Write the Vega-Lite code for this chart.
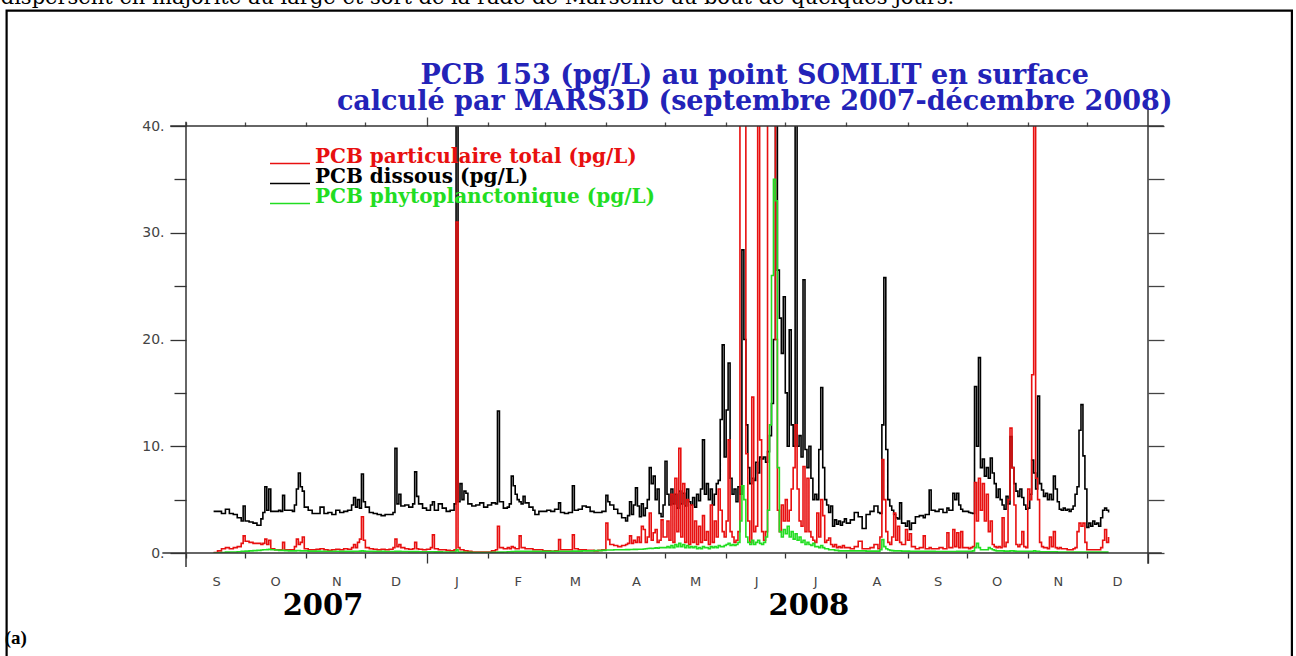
{
"$schema":"https://vega.github.io/schema/vega-lite/v6.json",
"width":962,"height":427,
"autosize":{"type":"none"},
"padding":{"left":186,"top":126,"right":148,"bottom":103},
"background":"white",
"config":{"view":{"stroke":null},"axis":{"grid":false,"domain":false,"title":null}},
"data":{"values":[
{"d":"2007-09-15","p":0.05,"s":3.9,"g":0},
{"d":"2007-09-17","p":0.2,"s":3.9,"g":0.02},
{"d":"2007-09-19","p":0.4,"s":3.7,"g":0.05},
{"d":"2007-09-21","p":0.5,"s":4.1,"g":0.08},
{"d":"2007-09-23","p":0.4,"s":3.7,"g":0.1},
{"d":"2007-09-25","p":0.5,"s":3.6,"g":0.1},
{"d":"2007-09-27","p":0.6,"s":3.3,"g":0.12},
{"d":"2007-09-29","p":0.9,"s":3.0,"g":0.15},
{"d":"2007-09-30","p":1.6,"s":4.4,"g":0.15},
{"d":"2007-10-01","p":1.1,"s":3.0,"g":0.18},
{"d":"2007-10-03","p":1.0,"s":2.9,"g":0.2},
{"d":"2007-10-05","p":0.9,"s":2.8,"g":0.22},
{"d":"2007-10-07","p":0.9,"s":2.6,"g":0.25},
{"d":"2007-10-09","p":0.8,"s":3.2,"g":0.28},
{"d":"2007-10-10","p":0.9,"s":3.8,"g":0.3},
{"d":"2007-10-11","p":1.3,"s":6.2,"g":0.3},
{"d":"2007-10-12","p":0.8,"s":4.0,"g":0.32},
{"d":"2007-10-13","p":1.2,"s":6.0,"g":0.35},
{"d":"2007-10-14","p":0.4,"s":3.9,"g":0.3},
{"d":"2007-10-16","p":0.3,"s":3.9,"g":0.28},
{"d":"2007-10-18","p":0.3,"s":4.0,"g":0.25},
{"d":"2007-10-19","p":0.3,"s":3.9,"g":0.25},
{"d":"2007-10-20","p":1.0,"s":5.4,"g":0.25},
{"d":"2007-10-21","p":0.3,"s":4.0,"g":0.22},
{"d":"2007-10-23","p":0.3,"s":4.0,"g":0.2},
{"d":"2007-10-25","p":0.3,"s":3.9,"g":0.2},
{"d":"2007-10-26","p":0.6,"s":4.5,"g":0.2},
{"d":"2007-10-27","p":1.3,"s":6.0,"g":0.22},
{"d":"2007-10-28","p":0.8,"s":7.5,"g":0.22},
{"d":"2007-10-29","p":1.0,"s":6.2,"g":0.2},
{"d":"2007-10-30","p":1.5,"s":5.8,"g":0.2},
{"d":"2007-10-31","p":0.4,"s":4.3,"g":0.2},
{"d":"2007-11-02","p":0.3,"s":4.0,"g":0.18},
{"d":"2007-11-04","p":0.3,"s":3.7,"g":0.18},
{"d":"2007-11-06","p":0.35,"s":3.7,"g":0.18},
{"d":"2007-11-08","p":0.4,"s":4.3,"g":0.17},
{"d":"2007-11-10","p":0.3,"s":3.7,"g":0.17},
{"d":"2007-11-12","p":0.25,"s":3.8,"g":0.16},
{"d":"2007-11-14","p":0.3,"s":3.6,"g":0.16},
{"d":"2007-11-16","p":0.35,"s":4.0,"g":0.16},
{"d":"2007-11-18","p":0.3,"s":3.8,"g":0.15},
{"d":"2007-11-20","p":0.4,"s":3.9,"g":0.15},
{"d":"2007-11-22","p":0.35,"s":4.0,"g":0.15},
{"d":"2007-11-24","p":0.5,"s":4.5,"g":0.15},
{"d":"2007-11-25","p":0.8,"s":5.2,"g":0.16},
{"d":"2007-11-26","p":0.5,"s":4.3,"g":0.16},
{"d":"2007-11-27","p":1.0,"s":5.0,"g":0.17},
{"d":"2007-11-28","p":1.3,"s":4.2,"g":0.18},
{"d":"2007-11-29","p":3.4,"s":7.4,"g":0.2},
{"d":"2007-11-30","p":1.2,"s":4.8,"g":0.18},
{"d":"2007-12-01","p":0.5,"s":4.3,"g":0.17},
{"d":"2007-12-03","p":0.4,"s":3.8,"g":0.16},
{"d":"2007-12-05","p":0.35,"s":3.7,"g":0.15},
{"d":"2007-12-07","p":0.3,"s":3.6,"g":0.15},
{"d":"2007-12-09","p":0.35,"s":3.5,"g":0.15},
{"d":"2007-12-11","p":0.3,"s":3.6,"g":0.14},
{"d":"2007-12-13","p":0.35,"s":3.6,"g":0.14},
{"d":"2007-12-15","p":0.5,"s":3.8,"g":0.14},
{"d":"2007-12-16","p":1.3,"s":9.8,"g":0.15},
{"d":"2007-12-17","p":0.6,"s":4.6,"g":0.15},
{"d":"2007-12-18","p":0.8,"s":5.5,"g":0.15},
{"d":"2007-12-19","p":0.5,"s":4.4,"g":0.14},
{"d":"2007-12-21","p":0.4,"s":4.5,"g":0.14},
{"d":"2007-12-23","p":0.35,"s":4.3,"g":0.13},
{"d":"2007-12-25","p":0.4,"s":4.6,"g":0.13},
{"d":"2007-12-26","p":1.0,"s":7.6,"g":0.13},
{"d":"2007-12-27","p":0.4,"s":5.3,"g":0.13},
{"d":"2007-12-28","p":0.35,"s":4.6,"g":0.12},
{"d":"2007-12-30","p":0.3,"s":4.2,"g":0.12},
{"d":"2008-01-01","p":0.35,"s":4.0,"g":0.12},
{"d":"2008-01-03","p":0.5,"s":4.5,"g":0.12},
{"d":"2008-01-04","p":1.7,"s":4.8,"g":0.12},
{"d":"2008-01-05","p":0.4,"s":4.0,"g":0.11},
{"d":"2008-01-07","p":0.3,"s":4.6,"g":0.11},
{"d":"2008-01-09","p":0.3,"s":4.2,"g":0.1},
{"d":"2008-01-11","p":0.25,"s":3.9,"g":0.1},
{"d":"2008-01-13","p":0.2,"s":4.0,"g":0.1},
{"d":"2008-01-15","p":0.3,"s":4.6,"g":0.1},
{"d":"2008-01-16","p":31,"s":45,"g":0.3},
{"d":"2008-01-17","p":0.5,"s":4.8,"g":0.1},
{"d":"2008-01-18","p":0.3,"s":6.5,"g":0.08},
{"d":"2008-01-19","p":0.3,"s":5.0,"g":0.08},
{"d":"2008-01-20","p":0.2,"s":5.8,"g":0.07},
{"d":"2008-01-21","p":0.2,"s":5.6,"g":0.07},
{"d":"2008-01-22","p":0.15,"s":4.6,"g":0.06},
{"d":"2008-01-24","p":0.1,"s":4.4,"g":0.05},
{"d":"2008-01-26","p":0.1,"s":4.5,"g":0.05},
{"d":"2008-01-28","p":0.1,"s":4.7,"g":0.05},
{"d":"2008-01-30","p":0.1,"s":4.3,"g":0.05},
{"d":"2008-02-01","p":0.1,"s":4.5,"g":0.05},
{"d":"2008-02-03","p":0.2,"s":4.7,"g":0.06},
{"d":"2008-02-05","p":0.3,"s":4.6,"g":0.07},
{"d":"2008-02-06","p":2.5,"s":13.3,"g":0.08},
{"d":"2008-02-07","p":0.5,"s":4.8,"g":0.08},
{"d":"2008-02-09","p":0.4,"s":4.2,"g":0.1},
{"d":"2008-02-11","p":0.5,"s":4.3,"g":0.12},
{"d":"2008-02-12","p":0.4,"s":4.6,"g":0.12},
{"d":"2008-02-13","p":0.6,"s":7.2,"g":0.13},
{"d":"2008-02-14","p":0.5,"s":6.3,"g":0.14},
{"d":"2008-02-15","p":0.4,"s":5.5,"g":0.15},
{"d":"2008-02-16","p":0.4,"s":5.0,"g":0.15},
{"d":"2008-02-17","p":1.6,"s":4.8,"g":0.15},
{"d":"2008-02-18","p":0.5,"s":4.6,"g":0.15},
{"d":"2008-02-19","p":0.5,"s":5.3,"g":0.15},
{"d":"2008-02-20","p":0.4,"s":4.7,"g":0.15},
{"d":"2008-02-22","p":0.4,"s":4.3,"g":0.15},
{"d":"2008-02-24","p":0.3,"s":4.0,"g":0.15},
{"d":"2008-02-25","p":0.3,"s":3.6,"g":0.15},
{"d":"2008-02-27","p":0.3,"s":3.9,"g":0.15},
{"d":"2008-02-29","p":0.2,"s":3.9,"g":0.15},
{"d":"2008-03-02","p":0.2,"s":4.0,"g":0.15},
{"d":"2008-03-04","p":0.15,"s":3.9,"g":0.15},
{"d":"2008-03-06","p":0.2,"s":4.1,"g":0.15},
{"d":"2008-03-08","p":1.25,"s":4.7,"g":0.16},
{"d":"2008-03-09","p":0.3,"s":3.8,"g":0.16},
{"d":"2008-03-11","p":0.3,"s":3.7,"g":0.16},
{"d":"2008-03-13","p":0.3,"s":3.8,"g":0.17},
{"d":"2008-03-15","p":1.7,"s":6.3,"g":0.18},
{"d":"2008-03-16","p":0.4,"s":4.0,"g":0.18},
{"d":"2008-03-18","p":0.3,"s":4.1,"g":0.18},
{"d":"2008-03-20","p":0.3,"s":4.4,"g":0.2},
{"d":"2008-03-22","p":0.25,"s":4.3,"g":0.2},
{"d":"2008-03-24","p":0.25,"s":3.9,"g":0.2},
{"d":"2008-03-26","p":0.2,"s":3.8,"g":0.22},
{"d":"2008-03-28","p":0.25,"s":3.8,"g":0.22},
{"d":"2008-03-30","p":0.3,"s":3.9,"g":0.25},
{"d":"2008-04-01","p":2.8,"s":5.4,"g":0.28},
{"d":"2008-04-02","p":1.25,"s":4.8,"g":0.28},
{"d":"2008-04-03","p":0.8,"s":4.5,"g":0.28},
{"d":"2008-04-05","p":0.7,"s":4.1,"g":0.3},
{"d":"2008-04-07","p":0.6,"s":3.7,"g":0.3},
{"d":"2008-04-09","p":0.7,"s":3.3,"g":0.3},
{"d":"2008-04-11","p":0.8,"s":3.0,"g":0.32},
{"d":"2008-04-12","p":0.9,"s":3.5,"g":0.32},
{"d":"2008-04-13","p":1.6,"s":4.8,"g":0.33},
{"d":"2008-04-14","p":0.9,"s":3.6,"g":0.33},
{"d":"2008-04-15","p":1.2,"s":4.5,"g":0.34},
{"d":"2008-04-16","p":1.0,"s":6.1,"g":0.34},
{"d":"2008-04-17","p":1.5,"s":4.4,"g":0.35},
{"d":"2008-04-18","p":1.0,"s":3.4,"g":0.35},
{"d":"2008-04-19","p":2.5,"s":4.6,"g":0.35},
{"d":"2008-04-20","p":2.2,"s":3.5,"g":0.38},
{"d":"2008-04-21","p":1.0,"s":4.2,"g":0.4},
{"d":"2008-04-22","p":1.5,"s":5.0,"g":0.42},
{"d":"2008-04-23","p":3.75,"s":8.0,"g":0.45},
{"d":"2008-04-24","p":1.2,"s":6.5,"g":0.42},
{"d":"2008-04-25","p":1.9,"s":7.2,"g":0.45},
{"d":"2008-04-26","p":2.2,"s":5.0,"g":0.48},
{"d":"2008-04-27","p":1.0,"s":6.0,"g":0.45},
{"d":"2008-04-28","p":1.2,"s":3.7,"g":0.5},
{"d":"2008-04-29","p":3.1,"s":3.4,"g":0.5},
{"d":"2008-04-30","p":1.5,"s":4.5,"g":0.5},
{"d":"2008-05-01","p":1.5,"s":8.6,"g":0.5},
{"d":"2008-05-02","p":3.0,"s":5.5,"g":0.6},
{"d":"2008-05-03","p":1.2,"s":4.5,"g":0.5},
{"d":"2008-05-04","p":5.5,"s":6.0,"g":0.7},
{"d":"2008-05-05","p":1.0,"s":4.6,"g":0.5},
{"d":"2008-05-06","p":7.0,"s":5.5,"g":0.8},
{"d":"2008-05-07","p":2.0,"s":4.2,"g":0.6},
{"d":"2008-05-08","p":9.8,"s":5.8,"g":0.9},
{"d":"2008-05-09","p":1.5,"s":4.6,"g":0.6},
{"d":"2008-05-10","p":6.5,"s":5.6,"g":0.8},
{"d":"2008-05-11","p":1.0,"s":4.4,"g":0.5},
{"d":"2008-05-12","p":5.0,"s":6.0,"g":0.7},
{"d":"2008-05-13","p":0.8,"s":4.8,"g":0.5},
{"d":"2008-05-14","p":4.5,"s":4.5,"g":0.6},
{"d":"2008-05-15","p":1.0,"s":5.2,"g":0.5},
{"d":"2008-05-16","p":3.0,"s":4.3,"g":0.6},
{"d":"2008-05-17","p":0.8,"s":5.5,"g":0.4},
{"d":"2008-05-18","p":2.5,"s":4.9,"g":0.5},
{"d":"2008-05-19","p":1.0,"s":6.0,"g":0.4},
{"d":"2008-05-20","p":3.5,"s":10.6,"g":0.6},
{"d":"2008-05-21","p":1.2,"s":5.5,"g":0.5},
{"d":"2008-05-22","p":2.0,"s":6.5,"g":0.5},
{"d":"2008-05-23","p":0.8,"s":5.0,"g":0.4},
{"d":"2008-05-24","p":4.5,"s":6.0,"g":0.6},
{"d":"2008-05-25","p":1.0,"s":4.5,"g":0.5},
{"d":"2008-05-26","p":3.0,"s":5.5,"g":0.6},
{"d":"2008-05-27","p":1.5,"s":6.5,"g":0.5},
{"d":"2008-05-28","p":6.0,"s":6.8,"g":0.7},
{"d":"2008-05-29","p":4.0,"s":12.5,"g":0.6},
{"d":"2008-05-30","p":2.0,"s":19.5,"g":0.6},
{"d":"2008-05-31","p":1.5,"s":9.0,"g":0.7},
{"d":"2008-06-01","p":3.0,"s":13.4,"g":0.8},
{"d":"2008-06-02","p":10.6,"s":17.8,"g":0.9},
{"d":"2008-06-03","p":2.0,"s":7.0,"g":0.7},
{"d":"2008-06-04","p":1.5,"s":5.5,"g":0.8},
{"d":"2008-06-05","p":1.0,"s":6.0,"g":0.7},
{"d":"2008-06-06","p":1.2,"s":4.8,"g":0.8},
{"d":"2008-06-07","p":2.0,"s":6.2,"g":1.0},
{"d":"2008-06-08","p":45,"s":5.5,"g":3.0},
{"d":"2008-06-09","p":45,"s":28.4,"g":6.3},
{"d":"2008-06-10","p":45,"s":20,"g":5.0},
{"d":"2008-06-11","p":9.3,"s":12,"g":1.5},
{"d":"2008-06-12","p":3.0,"s":8.0,"g":1.0},
{"d":"2008-06-13","p":1.0,"s":6.5,"g":0.8},
{"d":"2008-06-14","p":14.6,"s":7.0,"g":1.2},
{"d":"2008-06-15","p":2.0,"s":6.8,"g":0.8},
{"d":"2008-06-16","p":2.5,"s":8.5,"g":1.0},
{"d":"2008-06-17","p":45,"s":7.5,"g":1.2},
{"d":"2008-06-18","p":10.6,"s":9.0,"g":0.9},
{"d":"2008-06-19","p":2.0,"s":8.8,"g":0.8},
{"d":"2008-06-20","p":1.2,"s":9.0,"g":1.0},
{"d":"2008-06-21","p":2.0,"s":8.5,"g":1.5},
{"d":"2008-06-22","p":45,"s":9.5,"g":4.0},
{"d":"2008-06-23","p":45,"s":11,"g":12},
{"d":"2008-06-24","p":45,"s":14,"g":26},
{"d":"2008-06-25","p":45,"s":20,"g":35},
{"d":"2008-06-26","p":20,"s":45,"g":33},
{"d":"2008-06-27","p":4.0,"s":26.5,"g":8.0},
{"d":"2008-06-28","p":2.0,"s":22,"g":2.0},
{"d":"2008-06-29","p":4.5,"s":18.7,"g":1.5},
{"d":"2008-06-30","p":3.0,"s":24,"g":2.2},
{"d":"2008-07-01","p":5.0,"s":15,"g":1.8},
{"d":"2008-07-02","p":3.0,"s":10,"g":2.5},
{"d":"2008-07-03","p":4.0,"s":20.9,"g":1.5},
{"d":"2008-07-04","p":6.0,"s":12,"g":2.0},
{"d":"2008-07-05","p":8.0,"s":10,"g":1.3},
{"d":"2008-07-06","p":12,"s":45,"g":1.8},
{"d":"2008-07-07","p":6.0,"s":10,"g":1.2},
{"d":"2008-07-08","p":3.0,"s":11,"g":1.5},
{"d":"2008-07-09","p":2.5,"s":9,"g":1.0},
{"d":"2008-07-10","p":8.1,"s":25.6,"g":1.2},
{"d":"2008-07-11","p":2.0,"s":9.7,"g":0.8},
{"d":"2008-07-12","p":7.0,"s":8.0,"g":1.0},
{"d":"2008-07-13","p":2.0,"s":10,"g":0.8},
{"d":"2008-07-14","p":1.5,"s":7.0,"g":0.7},
{"d":"2008-07-15","p":1.2,"s":5.0,"g":0.9},
{"d":"2008-07-16","p":1.0,"s":5.5,"g":0.6},
{"d":"2008-07-17","p":3.75,"s":5.0,"g":0.6},
{"d":"2008-07-18","p":1.5,"s":9.7,"g":0.5},
{"d":"2008-07-19","p":5.0,"s":15.5,"g":0.7},
{"d":"2008-07-20","p":3.5,"s":8.0,"g":0.5},
{"d":"2008-07-21","p":1.0,"s":5.0,"g":0.4},
{"d":"2008-07-22","p":1.2,"s":4.5,"g":0.4},
{"d":"2008-07-23","p":1.4,"s":3.8,"g":0.3},
{"d":"2008-07-24","p":0.8,"s":4.4,"g":0.3},
{"d":"2008-07-25","p":0.6,"s":2.5,"g":0.3},
{"d":"2008-07-26","p":0.8,"s":3.1,"g":0.25},
{"d":"2008-07-27","p":0.5,"s":2.7,"g":0.25},
{"d":"2008-07-28","p":0.6,"s":3.0,"g":0.2},
{"d":"2008-07-29","p":0.5,"s":2.6,"g":0.2},
{"d":"2008-07-30","p":0.7,"s":2.9,"g":0.2},
{"d":"2008-07-31","p":0.5,"s":3.2,"g":0.2},
{"d":"2008-08-01","p":0.5,"s":2.8,"g":0.2},
{"d":"2008-08-03","p":0.4,"s":3.1,"g":0.2},
{"d":"2008-08-05","p":0.6,"s":3.8,"g":0.2},
{"d":"2008-08-07","p":1.1,"s":3.4,"g":0.2},
{"d":"2008-08-09","p":0.4,"s":2.3,"g":0.2},
{"d":"2008-08-11","p":0.4,"s":3.6,"g":0.18},
{"d":"2008-08-13","p":0.5,"s":3.9,"g":0.18},
{"d":"2008-08-15","p":0.8,"s":4.4,"g":0.18},
{"d":"2008-08-17","p":0.4,"s":3.8,"g":0.18},
{"d":"2008-08-18","p":1.5,"s":3.7,"g":0.3},
{"d":"2008-08-19","p":8.75,"s":12,"g":1.25},
{"d":"2008-08-20","p":5.0,"s":25.8,"g":0.6},
{"d":"2008-08-21","p":2.0,"s":9.7,"g":0.4},
{"d":"2008-08-22","p":1.0,"s":5.0,"g":0.3},
{"d":"2008-08-23","p":0.8,"s":4.4,"g":0.25},
{"d":"2008-08-24","p":1.5,"s":4.0,"g":0.22},
{"d":"2008-08-25","p":3.75,"s":3.6,"g":0.2},
{"d":"2008-08-26","p":1.2,"s":3.3,"g":0.2},
{"d":"2008-08-27","p":2.5,"s":3.2,"g":0.2},
{"d":"2008-08-28","p":1.0,"s":4.7,"g":0.2},
{"d":"2008-08-29","p":0.8,"s":2.8,"g":0.18},
{"d":"2008-08-31","p":2.2,"s":2.5,"g":0.18},
{"d":"2008-09-01","p":1.2,"s":3.0,"g":0.18},
{"d":"2008-09-02","p":1.8,"s":2.2,"g":0.15},
{"d":"2008-09-03","p":0.6,"s":2.8,"g":0.15},
{"d":"2008-09-05","p":0.4,"s":3.4,"g":0.15},
{"d":"2008-09-07","p":0.5,"s":3.5,"g":0.15},
{"d":"2008-09-09","p":1.6,"s":3.3,"g":0.15},
{"d":"2008-09-10","p":0.4,"s":3.6,"g":0.15},
{"d":"2008-09-12","p":0.5,"s":5.9,"g":0.15},
{"d":"2008-09-13","p":0.4,"s":4.0,"g":0.15},
{"d":"2008-09-15","p":0.4,"s":3.9,"g":0.14},
{"d":"2008-09-17","p":0.5,"s":4.1,"g":0.14},
{"d":"2008-09-19","p":0.4,"s":3.8,"g":0.14},
{"d":"2008-09-21","p":1.9,"s":4.2,"g":0.14},
{"d":"2008-09-22","p":0.5,"s":4.0,"g":0.14},
{"d":"2008-09-24","p":2.2,"s":5.6,"g":0.14},
{"d":"2008-09-25","p":0.6,"s":5.0,"g":0.14},
{"d":"2008-09-26","p":1.9,"s":5.6,"g":0.15},
{"d":"2008-09-27","p":0.5,"s":4.5,"g":0.15},
{"d":"2008-09-28","p":2.0,"s":4.1,"g":0.15},
{"d":"2008-09-29","p":0.5,"s":3.9,"g":0.15},
{"d":"2008-10-01","p":0.5,"s":3.9,"g":0.15},
{"d":"2008-10-02","p":0.4,"s":3.8,"g":0.15},
{"d":"2008-10-03","p":0.5,"s":3.75,"g":0.15},
{"d":"2008-10-04","p":0.6,"s":3.7,"g":0.2},
{"d":"2008-10-05","p":6.6,"s":15.6,"g":0.5},
{"d":"2008-10-06","p":3.0,"s":10,"g":0.9},
{"d":"2008-10-07","p":7.0,"s":18.3,"g":0.5},
{"d":"2008-10-08","p":4.0,"s":8.0,"g":0.3},
{"d":"2008-10-09","p":6.5,"s":8.8,"g":0.3},
{"d":"2008-10-10","p":3.0,"s":7.2,"g":0.3},
{"d":"2008-10-11","p":5.5,"s":8.0,"g":0.3},
{"d":"2008-10-12","p":2.0,"s":7.0,"g":0.5},
{"d":"2008-10-13","p":3.0,"s":8.9,"g":0.4},
{"d":"2008-10-14","p":0.8,"s":7.5,"g":0.3},
{"d":"2008-10-15","p":0.6,"s":6.5,"g":0.25},
{"d":"2008-10-16","p":0.5,"s":5.2,"g":0.2},
{"d":"2008-10-17","p":0.6,"s":6.0,"g":0.2},
{"d":"2008-10-18","p":0.5,"s":5.0,"g":0.2},
{"d":"2008-10-19","p":3.3,"s":4.5,"g":0.2},
{"d":"2008-10-20","p":0.6,"s":4.1,"g":0.18},
{"d":"2008-10-21","p":1.0,"s":5.3,"g":0.18},
{"d":"2008-10-22","p":5.0,"s":4.6,"g":0.18},
{"d":"2008-10-23","p":11.7,"s":10.9,"g":0.2},
{"d":"2008-10-24","p":8.0,"s":8.0,"g":0.2},
{"d":"2008-10-25","p":4.5,"s":6.5,"g":0.18},
{"d":"2008-10-26","p":0.8,"s":5.8,"g":0.15},
{"d":"2008-10-27","p":0.6,"s":5.3,"g":0.15},
{"d":"2008-10-28","p":0.8,"s":6.0,"g":0.15},
{"d":"2008-10-29","p":2.0,"s":5.2,"g":0.15},
{"d":"2008-10-30","p":0.6,"s":4.5,"g":0.15},
{"d":"2008-10-31","p":0.5,"s":4.1,"g":0.15},
{"d":"2008-11-01","p":6.0,"s":4.2,"g":0.15},
{"d":"2008-11-02","p":5.0,"s":5.5,"g":0.15},
{"d":"2008-11-03","p":16.7,"s":8.7,"g":0.15},
{"d":"2008-11-04","p":45,"s":7.5,"g":0.2},
{"d":"2008-11-05","p":7.0,"s":6.0,"g":0.15},
{"d":"2008-11-06","p":5.0,"s":14.7,"g":0.15},
{"d":"2008-11-07","p":1.0,"s":6.5,"g":0.12},
{"d":"2008-11-08","p":0.6,"s":5.9,"g":0.12},
{"d":"2008-11-09","p":0.5,"s":5.3,"g":0.12},
{"d":"2008-11-10","p":0.5,"s":5.6,"g":0.12},
{"d":"2008-11-11","p":0.4,"s":5.0,"g":0.12},
{"d":"2008-11-12","p":1.5,"s":5.5,"g":0.12},
{"d":"2008-11-13","p":0.6,"s":5.0,"g":0.12},
{"d":"2008-11-14","p":2.0,"s":7.2,"g":0.12},
{"d":"2008-11-15","p":0.5,"s":6.0,"g":0.12},
{"d":"2008-11-16","p":0.4,"s":4.8,"g":0.1},
{"d":"2008-11-17","p":0.5,"s":4.1,"g":0.1},
{"d":"2008-11-18","p":0.4,"s":4.0,"g":0.1},
{"d":"2008-11-19","p":0.4,"s":4.2,"g":0.1},
{"d":"2008-11-20","p":0.4,"s":4.0,"g":0.1},
{"d":"2008-11-21","p":0.3,"s":4.1,"g":0.1},
{"d":"2008-11-22","p":0.3,"s":3.9,"g":0.1},
{"d":"2008-11-23","p":0.3,"s":4.1,"g":0.1},
{"d":"2008-11-24","p":0.4,"s":4.4,"g":0.1},
{"d":"2008-11-25","p":0.5,"s":5.5,"g":0.1},
{"d":"2008-11-26","p":2.0,"s":6.2,"g":0.1},
{"d":"2008-11-27","p":2.8,"s":11.5,"g":0.1},
{"d":"2008-11-28","p":2.5,"s":13.9,"g":0.1},
{"d":"2008-11-29","p":2.8,"s":9.1,"g":0.1},
{"d":"2008-11-30","p":1.0,"s":6.0,"g":0.1},
{"d":"2008-12-01","p":0.3,"s":2.4,"g":0.08},
{"d":"2008-12-02","p":0.3,"s":2.8,"g":0.08},
{"d":"2008-12-03","p":0.3,"s":2.5,"g":0.08},
{"d":"2008-12-04","p":0.3,"s":3.0,"g":0.08},
{"d":"2008-12-05","p":0.3,"s":2.7,"g":0.08},
{"d":"2008-12-06","p":0.3,"s":2.8,"g":0.08},
{"d":"2008-12-07","p":0.3,"s":2.5,"g":0.08},
{"d":"2008-12-08","p":0.5,"s":3.3,"g":0.08},
{"d":"2008-12-09","p":1.2,"s":4.0,"g":0.08},
{"d":"2008-12-10","p":2.2,"s":4.2,"g":0.08},
{"d":"2008-12-11","p":1.0,"s":4.0,"g":0.08},
{"d":"2008-12-12","p":1.5,"s":3.8,"g":0.08}
]},
"resolve":{"axis":{"x":"independent","y":"independent"}},
"layer":[
{"mark":{"type":"line","interpolate":"step-after","strokeWidth":1.6,"clip":true},
 "encoding":{
  "x":{"field":"d","type":"temporal","scale":{"type":"utc","domain":[{"year":2007,"month":9,"date":1,"utc":true},{"year":2009,"month":1,"date":1,"utc":true}]},
   "axis":{"orient":"bottom","values":[{"year":2007,"month":9,"date":1,"utc":true},{"year":2007,"month":10,"date":1,"utc":true},{"year":2007,"month":11,"date":1,"utc":true},{"year":2007,"month":12,"date":1,"utc":true},{"year":2008,"month":1,"date":1,"utc":true},{"year":2008,"month":2,"date":1,"utc":true},{"year":2008,"month":3,"date":1,"utc":true},{"year":2008,"month":4,"date":1,"utc":true},{"year":2008,"month":5,"date":1,"utc":true},{"year":2008,"month":6,"date":1,"utc":true},{"year":2008,"month":7,"date":1,"utc":true},{"year":2008,"month":8,"date":1,"utc":true},{"year":2008,"month":9,"date":1,"utc":true},{"year":2008,"month":10,"date":1,"utc":true},{"year":2008,"month":11,"date":1,"utc":true},{"year":2008,"month":12,"date":1,"utc":true},{"year":2009,"month":1,"date":1,"utc":true}],
    "labelExpr":"utcyear(datum.value) > 2008 ? '' : substring(utcFormat(datum.value, '%b'), 0, 1)",
    "labelOffset":30,"labelPadding":{"condition":{"test":"utcmonth(datum.value) === 0","value":12},"value":17},"labelFont":"DejaVu Sans","labelFontSize":13,"labelColor":"#444","labelAlign":"center","labelOverlap":false,"labelFlush":false,"labelBound":false,
    "tickColor":"#333","tickWidth":1.3,"tickSize":{"condition":{"test":"utcmonth(datum.value) === 0","value":10},"value":5}}},
  "y":{"field":"s","type":"quantitative","scale":{"domain":[0,40],"nice":false,"zero":false},
   "axis":{"orient":"left","values":[0,5,10,15,20,25,30,35,40],"labelExpr":"datum.value % 10 === 0 ? datum.value + '.' : ''","labelFont":"DejaVu Sans","labelFontSize":14,"labelColor":"#444","labelPadding":6,"tickColor":"#333","tickWidth":1.3,"tickSize":{"condition":{"test":"datum.value % 10 === 0","value":16},"value":12}}},
  "color":{"datum":"PCB dissous (pg/L)","type":"nominal",
   "scale":{"domain":["PCB particulaire total (pg/L)","PCB dissous (pg/L)","PCB phytoplanctonique (pg/L)"],"range":["#e81010","#000000","#22dd22"]},
   "legend":{"orient":"none","legendX":94,"legendY":21,"title":null,"padding":0,"symbolType":"M-4,1.3L4,1.3","symbolSize":100,"symbolStrokeWidth":1.5,"labelFont":"DejaVu Serif","labelFontWeight":"bold","labelFontSize":20,"labelOffset":15,"rowPadding":-4.5,"labelLimit":0,
    "encode":{"labels":{"update":{"fill":{"scale":"color","field":"value"}}}}}}
 }},
{"mark":{"type":"line","interpolate":"step-after","strokeWidth":1.6,"clip":true},
 "encoding":{
  "x":{"field":"d","type":"temporal","scale":{"type":"utc"},
   "axis":{"orient":"top","values":[{"year":2007,"month":9,"date":1,"utc":true},{"year":2007,"month":10,"date":1,"utc":true},{"year":2007,"month":11,"date":1,"utc":true},{"year":2007,"month":12,"date":1,"utc":true},{"year":2008,"month":1,"date":1,"utc":true},{"year":2008,"month":2,"date":1,"utc":true},{"year":2008,"month":3,"date":1,"utc":true},{"year":2008,"month":4,"date":1,"utc":true},{"year":2008,"month":5,"date":1,"utc":true},{"year":2008,"month":6,"date":1,"utc":true},{"year":2008,"month":7,"date":1,"utc":true},{"year":2008,"month":8,"date":1,"utc":true},{"year":2008,"month":9,"date":1,"utc":true},{"year":2008,"month":10,"date":1,"utc":true},{"year":2008,"month":11,"date":1,"utc":true},{"year":2008,"month":12,"date":1,"utc":true}],
    "labels":false,"tickColor":"#444","tickWidth":1.3,"tickSize":{"condition":{"test":"utcmonth(datum.value) === 0","value":9},"value":4}}},
  "y":{"field":"p","type":"quantitative","axis":{"orient":"right","values":[0,5,10,15,20,25,30,35,40],"labels":false,"tickColor":"#444","tickWidth":1.3,"tickSize":16}},
  "color":{"datum":"PCB particulaire total (pg/L)","type":"nominal"}
 }},
{"mark":{"type":"line","interpolate":"step-after","strokeWidth":1.6,"clip":true},
 "encoding":{
  "x":{"field":"d","type":"temporal","scale":{"type":"utc"},"axis":null},
  "y":{"field":"g","type":"quantitative","axis":null},
  "color":{"datum":"PCB phytoplanctonique (pg/L)","type":"nominal"}
 }},
{"data":{"values":[{}]},"mark":{"type":"rule","color":"#333","strokeWidth":1.5,"clip":false},
 "encoding":{"x":{"datum":{"year":2007,"month":8,"date":20,"utc":true},"type":"temporal","scale":{"type":"utc"},"axis":null},"x2":{"datum":{"year":2009,"month":1,"date":8,"utc":true}},"y":{"datum":0,"type":"quantitative","axis":null}}},
{"data":{"values":[{}]},"mark":{"type":"rule","color":"#333","strokeWidth":1.5,"clip":false},
 "encoding":{"x":{"datum":{"year":2007,"month":8,"date":24,"utc":true},"type":"temporal","scale":{"type":"utc"},"axis":null},"x2":{"datum":{"year":2009,"month":1,"date":9,"utc":true}},"y":{"datum":40,"type":"quantitative","axis":null}}},
{"data":{"values":[{}]},"mark":{"type":"rule","color":"#333","strokeWidth":1.5,"clip":false},
 "encoding":{"x":{"datum":{"year":2007,"month":9,"date":1,"utc":true},"type":"temporal","scale":{"type":"utc"},"axis":null},"y":{"datum":-1.3,"type":"quantitative","axis":null},"y2":{"datum":40.4}}},
{"data":{"values":[{}]},"mark":{"type":"rule","color":"#333","strokeWidth":1.5,"clip":false},
 "encoding":{"x":{"datum":{"year":2009,"month":1,"date":1,"utc":true},"type":"temporal","scale":{"type":"utc"},"axis":null},"y":{"datum":-1,"type":"quantitative","axis":null},"y2":{"datum":41.8}}},
{"data":{"values":[{}]},"mark":{"type":"rect","fill":"transparent","stroke":"#000","strokeWidth":2.2,"clip":false},
 "encoding":{"x":{"datum":{"year":2007,"month":6,"date":2,"utc":true},"type":"temporal","scale":{"type":"utc"},"axis":null},"x2":{"datum":{"year":2009,"month":3,"date":15,"utc":true}},"y":{"datum":50.8,"type":"quantitative","axis":null},"y2":{"datum":-12}}},
{"data":{"values":[{}]},"mark":{"type":"text","align":"left","baseline":"alphabetic","font":"DejaVu Serif","fontSize":21,"color":"#000","clip":false,"text":"dispersent en majorité au large et sort de la rade de Marseille au bout de quelques jours."},
 "encoding":{"x":{"datum":{"year":2007,"month":5,"date":30,"utc":true},"type":"temporal","scale":{"type":"utc"},"axis":null},"y":{"datum":51.45,"type":"quantitative","axis":null}}},
{"data":{"values":[{}]},"mark":{"type":"text","align":"center","baseline":"alphabetic","font":"DejaVu Serif","fontWeight":"bold","fontSize":27,"lineHeight":26,"color":"#2323b8","clip":false,"text":["PCB 153 (pg/L) au point SOMLIT en surface","calculé par MARS3D (septembre 2007-décembre 2008)"]},
 "encoding":{"x":{"datum":{"year":2008,"month":6,"date":15,"hours":12,"utc":true},"type":"temporal","scale":{"type":"utc"},"axis":null},"y":{"datum":43.9,"type":"quantitative","axis":null}}},
{"data":{"values":[{}]},"mark":{"type":"text","align":"center","baseline":"alphabetic","font":"DejaVu Serif","fontWeight":"bold","fontSize":29,"color":"#000","clip":false,"text":"2007"},
 "encoding":{"x":{"datum":{"year":2007,"month":11,"date":9,"hours":12,"utc":true},"type":"temporal","scale":{"type":"utc"},"axis":null},"y":{"datum":-5.78,"type":"quantitative","axis":null}}},
{"data":{"values":[{}]},"mark":{"type":"text","align":"center","baseline":"alphabetic","font":"DejaVu Serif","fontWeight":"bold","fontSize":29,"color":"#000","clip":false,"text":"2008"},
 "encoding":{"x":{"datum":{"year":2008,"month":7,"date":13,"utc":true},"type":"temporal","scale":{"type":"utc"},"axis":null},"y":{"datum":-5.78,"type":"quantitative","axis":null}}},
{"data":{"values":[{}]},"mark":{"type":"text","align":"left","baseline":"alphabetic","font":"Liberation Serif","fontWeight":"bold","fontSize":19,"color":"#000","clip":false,"text":"(a)"},
 "encoding":{"x":{"datum":{"year":2007,"month":6,"date":1,"utc":true},"type":"temporal","scale":{"type":"utc"},"axis":null},"y":{"datum":-8.5,"type":"quantitative","axis":null}}}
]
}
